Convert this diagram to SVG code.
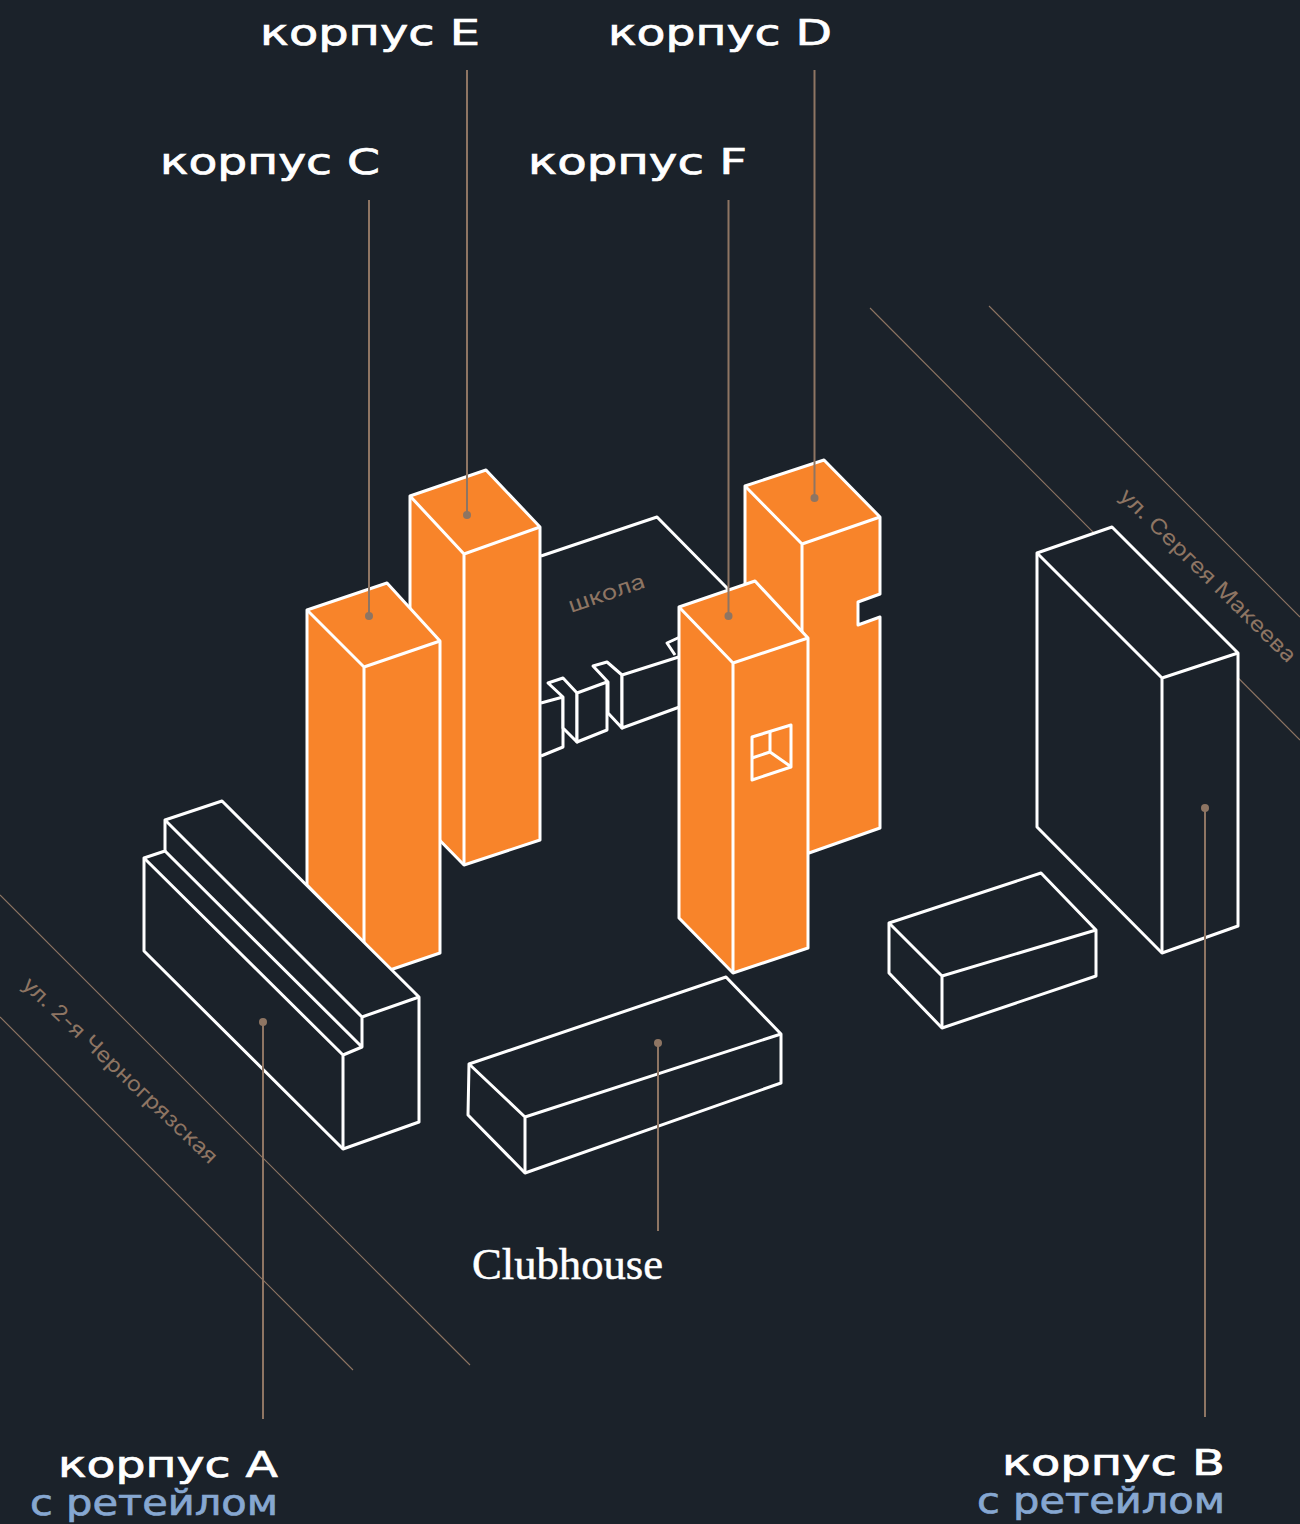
<svg xmlns="http://www.w3.org/2000/svg" width="1300" height="1524" viewBox="0 0 1300 1524">
<style>
.o{fill:#f8842a;stroke:#fff;stroke-width:3;stroke-linejoin:round}
.d{fill:#1b222a;stroke:#fff;stroke-width:3;stroke-linejoin:round}
.n{fill:none;stroke:#fff;stroke-width:3;stroke-linejoin:round}
.f{fill:#1b222a}
.s{stroke:#8e7563;stroke-width:1.1;fill:none}
.l{stroke:#8e7563;stroke-width:2;fill:none}
.p{fill:#8e7563}
.t{font-family:"DejaVu Sans","Liberation Sans",sans-serif;font-size:35px;fill:#fff;stroke:#fff;stroke-width:.7}
.b{font-family:"DejaVu Sans","Liberation Sans",sans-serif;font-size:35px;fill:#86a7d1;stroke:#86a7d1;stroke-width:.7}
.r{font-family:Inter,"Open Sans",sans-serif;fill:#8e7563;font-size:21px}
.c{font-family:"Liberation Serif",serif;font-size:45px;fill:#fff;stroke:#fff;stroke-width:.5}
</style>
<rect width="1300" height="1524" fill="#1b222a"/>
<g id="streets">
<line class="s" x1="870" y1="308" x2="1300" y2="740"/>
<line class="s" x1="989" y1="306" x2="1300" y2="617"/>
<line class="s" x1="0" y1="895" x2="470" y2="1365"/>
<line class="s" x1="0" y1="1017" x2="353" y2="1370"/>
<text class="r" transform="translate(1118 497) rotate(44.5)" textLength="238" lengthAdjust="spacingAndGlyphs">ул. Сергея Макеева</text>
<text class="r" transform="translate(21 986) rotate(43.5)" textLength="260" lengthAdjust="spacingAndGlyphs">ул. 2-я Черногрязская</text>
</g>
<g id="school">
<path class="f" d="M541 556L657 517L740 604L740 700L622 728L608 713L577 742L563 728L563 747L541 756Z"/>
<path class="n" d="M541 556L657 517L728 589"/>
<path class="d" d="M541 703L563 697V747L541 756"/>
<path class="d" d="M548 683L563 678L577 693V742L563 728V697Z"/>
<path class="d" d="M577 693L607 682V730L577 742Z"/>
<path class="d" d="M593 666L607 662L622 675V728L608 713V682Z"/>
<path class="d" d="M622 675L685 655V705L622 728Z"/>
<path class="n" d="M680 637L667 643L675 655"/>
<text class="r" transform="translate(571 613) rotate(-19)" textLength="80" lengthAdjust="spacingAndGlyphs">школа</text>
</g>
<g id="building-e">
<path class="o" d="M410 496L486 470L540 527V840L464 865L410 810Z"/>
<path class="n" d="M410 496L464 554L540 527M464 554V865"/>
</g>
<g id="building-c">
<path class="o" d="M307 610L387 583L440 641V953L390 970L307 885Z"/>
<path class="n" d="M307 610L364 667L440 641M364 667V950"/>
</g>
<g id="building-d">
<path class="o" d="M745 486L824 460L880 517V594L858 602V625L880 617V828L809 853L745 800Z"/>
<path class="n" d="M745 486L802 544L880 517M802 544V640"/>
</g>
<g id="building-f">
<path class="o" d="M679 607L755 581L808 638V948L733 973L679 918Z"/>
<path class="n" d="M679 607L733 663L808 638M733 663V973"/>
<path class="n" d="M752 737L791 725V767L752 780Z"/>
<path class="n" d="M770 731V752M752 758L770 752L790 766"/>
</g>
<g id="building-a">
<path class="d" d="M222 801L165 820V851L144 858V951L343 1149L419 1122V997Z"/>
<path class="n" d="M165 820L362 1017L419 997M362 1017V1047L343 1055M165 851L362 1047M144 858L343 1055V1149"/>
</g>
<g id="clubhouse">
<path class="d" d="M469 1064L726 977L781 1034V1083L525 1173L468 1115Z"/>
<path class="n" d="M469 1064L525 1117L781 1034M525 1117V1173"/>
</g>
<g id="building-small">
<path class="d" d="M889 923L1041 873L1096 930V976L942 1028L889 973Z"/>
<path class="n" d="M889 923L942 976L1096 930M942 976V1028"/>
</g>
<g id="building-b">
<path class="d" d="M1037 553L1112 527L1238 653V926L1162 953L1037 827Z"/>
<path class="n" d="M1037 553L1162 678L1238 653M1162 678V953"/>
</g>
<g id="connectors">
<path class="l" d="M369 200V616M467 70V515M814.5 70V498M728.5 200V616M263 1022V1419M658 1043V1231M1205 808V1417"/>
<circle class="p" cx="369" cy="616" r="4"/>
<circle class="p" cx="467" cy="515" r="4"/>
<circle class="p" cx="814.5" cy="498" r="4"/>
<circle class="p" cx="728.5" cy="616" r="4"/>
<circle class="p" cx="263" cy="1022" r="4"/>
<circle class="p" cx="658" cy="1043" r="4"/>
<circle class="p" cx="1205" cy="808" r="4"/>
</g>
<g id="labels">
<text class="t" x="260" y="45" textLength="220" lengthAdjust="spacingAndGlyphs">корпус E</text>
<text class="t" x="608" y="45" textLength="224" lengthAdjust="spacingAndGlyphs">корпус D</text>
<text class="t" x="160" y="174" textLength="220" lengthAdjust="spacingAndGlyphs">корпус C</text>
<text class="t" x="528" y="174" textLength="219" lengthAdjust="spacingAndGlyphs">корпус F</text>
<text class="t" x="58" y="1477" textLength="220" lengthAdjust="spacingAndGlyphs">корпус A</text>
<text class="b" x="30" y="1515" textLength="248" lengthAdjust="spacingAndGlyphs">с ретейлом</text>
<text class="t" x="1002" y="1475" textLength="223" lengthAdjust="spacingAndGlyphs">корпус B</text>
<text class="b" x="977" y="1513" textLength="248" lengthAdjust="spacingAndGlyphs">с ретейлом</text>
<text class="c" x="472" y="1279" textLength="191" lengthAdjust="spacingAndGlyphs">Clubhouse</text>
</g>
</svg>
